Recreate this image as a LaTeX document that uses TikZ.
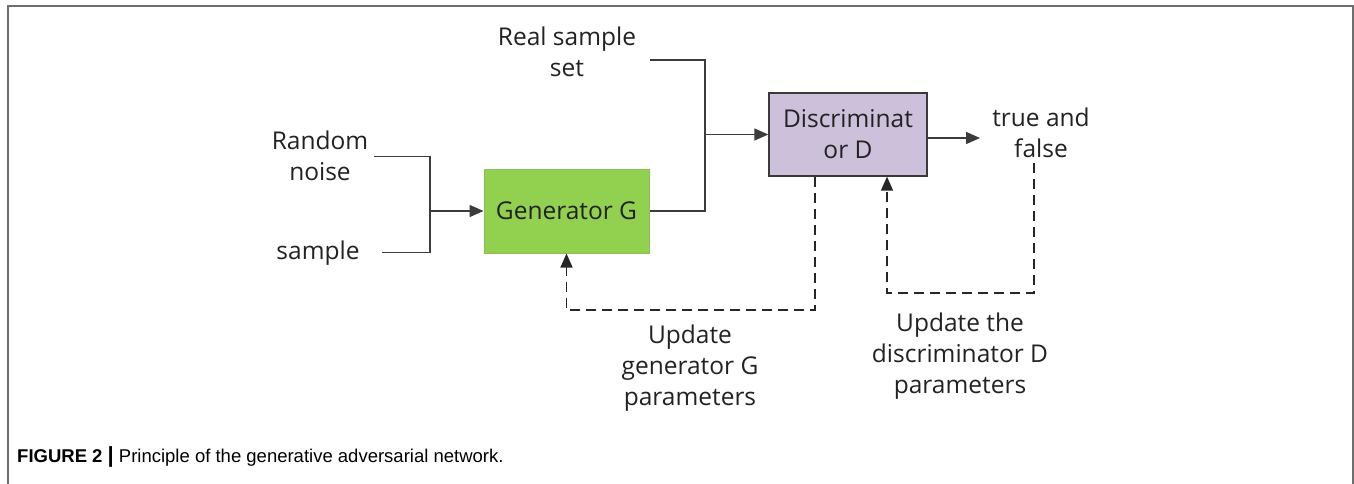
\documentclass[tikz,border=0pt]{standalone}
\usepackage{fontspec}
\setmainfont{Open Sans}
\newfontfamily\capfont{Liberation Sans}
\usetikzlibrary{arrows.meta}
\definecolor{framegrey}{HTML}{6E6E6E}
\definecolor{linegrey}{HTML}{3C3C3C}
\definecolor{txtcol}{HTML}{222222}
\definecolor{gengreen}{HTML}{92D050}
\definecolor{genborder}{HTML}{8CBF55}
\definecolor{disclav}{HTML}{CCC0DA}
\definecolor{discborder}{HTML}{3A3A3A}
\begin{document}
\begin{tikzpicture}[x=1pt,y=-1pt,
  txt/.style={font=\fontsize{24.5}{31}\selectfont, text=txtcol, align=center, inner sep=0pt},
  solidline/.style={draw=linegrey, line width=1.4pt},
  arr/.style={solidline, -{Triangle[length=14pt,width=12pt]}},
  dashline/.style={draw=black!85, line width=1.5pt, dash pattern=on 10pt off 6pt},
  darr/.style={dashline, -{Triangle[length=14pt,width=12pt]}},
  box/.style={txt, minimum width=#1, inner sep=0pt}
]
\useasboundingbox (0,0) rectangle (1354,484);
% frame
\draw[framegrey, line width=2pt] (8,484) -- (8,6) -- (1353,6) -- (1353,484);

% boxes
\node[box=165pt, minimum height=84pt, fill=gengreen, draw=genborder, line width=1pt] (gen) at (566.5,211) {Generator G};
\node[box=158pt, minimum height=83pt, fill=disclav, draw=discborder, line width=1.3pt] (disc) at (848,134.5) {Discriminat\\or D};

% labels
\node[txt] (real) at (567,52) {Real sample\\set};
\node[txt] (noise) at (320,155.5) {Random\\noise};
\node[txt] (sample) at (318,253) {sample};
\node[txt] (tf) at (1041,133) {true and\\false};
\node[txt] (updg) at (690,368) {Update\\generator G\\parameters};
\node[txt] (updd) at (960,356) {Update the\\discriminator D\\parameters};

% junction coordinates
\coordinate (rsstart) at (650,60);
\coordinate (rsjoin) at (705,211);
\coordinate (nstart) at (374,156.5);
\coordinate (sstart) at (382,252.5);
\coordinate (njoin) at (430,211);
\coordinate (tfout) at (980,138);
\coordinate (gbot) at (815,310);
\coordinate (dbot) at (1034,293);
\coordinate (tfstart) at (1034,163);

% solid connectors
\draw[solidline] (rsstart) -| (rsjoin) -- (gen.east);
\draw[arr] (rsjoin |- disc.west) -- (disc.west);
\draw[solidline] (nstart) -| (njoin) |- (sstart);
\draw[arr] (njoin) -- (gen.west);
\draw[arr] (disc.east |- tfout) -- (tfout);

% dashed feedback loops
\draw[darr] (disc.south -| gbot) -- (gbot) -| (gen.south);
\draw[darr] (tfstart) -- (dbot) -| (disc.south -| 887,0);

% caption
\node[anchor=base west, inner sep=0pt, font=\capfont\fontsize{18.5}{22}\selectfont, text=black] (cap) at (17,462) {\textbf{FIGURE 2 {\fontsize{22}{22}\selectfont|}} Principle of the generative adversarial network.};
\end{tikzpicture}
\end{document}
